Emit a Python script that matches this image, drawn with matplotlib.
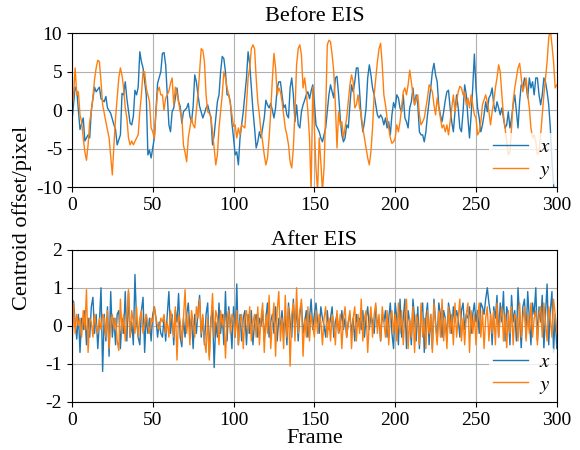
import numpy as np
import matplotlib
matplotlib.use('Agg')
import matplotlib.pyplot as plt

plt.rcParams['font.family'] = ['Liberation Serif', 'DejaVu Serif']
plt.rcParams['mathtext.fontset'] = 'stix'
plt.rcParams['axes.unicode_minus'] = False

# ---- Before EIS ----
top_x_frames = [0, 2, 3, 5, 7, 8, 10, 11, 12, 14, 15, 17, 18, 20, 21, 22, 24, 26, 27, 28,
                30, 31, 32, 33, 34, 36, 37, 38, 39, 40, 41, 42, 43, 44, 46, 47, 48, 49, 51, 52,
                53, 55, 56, 57, 58, 59, 60, 61, 62, 63, 65, 66, 67, 68, 69, 71, 72, 73, 74, 75,
                76, 77, 78, 79, 81, 82, 83, 84, 86, 87, 88, 89, 90, 91, 92, 93, 94, 95, 96, 97,
                98, 99, 100, 101, 102, 103, 104, 105, 106, 107, 108, 109, 110, 111, 112, 113, 114, 115, 116, 117,
                118, 119, 120, 121, 122, 123, 124, 125, 126, 127, 128, 129, 130, 131, 132, 133, 134, 135, 136, 137,
                138, 139, 140, 141, 142, 143, 144, 145, 146, 147, 148, 149, 150, 151, 153, 154, 155, 156, 157, 158,
                159, 160, 161, 162, 163, 164, 165, 166, 167, 168, 169, 170, 171, 172, 173, 174, 175, 176, 177, 178,
                179, 180, 181, 182, 183, 184, 185, 186, 187, 188, 189, 190, 191, 192, 193, 194, 195, 196, 197, 198,
                199, 200, 201, 202, 203, 204, 205, 206, 207, 208, 209, 210, 211, 212, 213, 214, 215, 216, 217, 218,
                219, 220, 221, 222, 223, 224, 225, 226, 227, 228, 229, 230, 231, 232, 233, 234, 235, 236, 237, 238,
                239, 240, 241, 242, 243, 244, 245, 246, 247, 248, 249, 250, 251, 252, 253, 254, 255, 256, 257, 258,
                259, 260, 261, 262, 263, 264, 265, 266, 267, 268, 269, 270, 271, 272, 273, 274, 275, 276, 277, 278,
                279, 280, 281, 282, 283, 284, 285, 286, 287, 288, 289, 290, 291, 292, 293, 294, 295, 296, 297, 298,
                299, 300]
top_x_vals = [-1.5, 3, 2.5, -2.5, -1, -4, -3.2, -3.6, 0, 3, 2.4, 3, 1.5, 1.1, 1.8, 0.3, -0.4, -1.9, -2.5, -4.5,
              -3.2, 2.2, 2, 3.7, 1.5, -1.7, -1.9, -0.8, 2.6, 2, 3, 7.6, 6.3, 5.5, 2, -5.8, -5.2, -6.2, -3.6, 0,
              3.5, 5, 7.4, 7.5, 5.9, 2, -1.9, -2.8, -0.2, 0.3, 2.9, 1.1, 0.5, -1.7, -0.2, 0.3, 0.9, -0.8, -1.5, 0.5,
              4.6, 3.7, 2, 0.5, -1, -0.4, 0.3, 0.7, -1, -4.5, -3.2, -1, 1.1, 2, 5, 7, 6.7, 5, 2, 2,
              1.1, -1.7, -3.6, -5.8, -5.4, -7.1, -3.6, -1.9, -0.2, 2, 4.2, 7.6, 6.0, 3, 0, -2.3, -4.9, -4.1, -2.8, -3.6,
              -2.3, -1, 1.3, 0.7, 0.3, 0.9, 0, -1, 0.3, 2.9, 3.7, 3.7, 2, 0.3, 0.7, -0.6, -1, 2.9, 4.2, 2,
              -1.5, 0.7, -1.9, -2.3, -0.2, 0.7, 1.3, 2, 2.4, 1.5, 2.5, 3.3, 1, -1.9, -2.8, -3.6, -4.1, -3.2, -2.3, -0.2,
              2, 3.3, 2.4, 1.6, 4.2, 4.4, 2, -1, -3.2, -4.1, -3.6, -1.9, -2.3, 0.7, 3.3, 2.4, 3.7, 5.5, 5.5, 2.4,
              -1, -2.8, -1.5, 0.3, 4.2, 5.9, 4.6, 2.9, 2, 0.7, -0.6, -1, -0.6, -1, -1.9, -1, -2.3, -1.5, -3.2, -0.6,
              1, 0.3, 2, 1.6, 0.3, -0.2, 2, -1, -1.5, -2.3, 0.3, 1.1, 2.9, 0.7, 2, 0.7, -2.8, -3.2, -3.2, -4.1,
              -2.8, -0.6, 1.1, 2.9, 5, 6.1, 4.6, 3.7, 0.5, -0.6, -1.5, -0.2, 1.3, 2.4, 2.6, 0.3, -1.5, -2.8, -0.2, 2,
              0.3, -2.3, -2.8, -0.2, 3.3, 2, -1, -3.6, -0.6, 3, 7.3, 2.9, 0.3, -1, -2.8, -1.9, -0.6, 1.1, -0.2, 1.6,
              2, 2.9, 0.7, -0.2, 1.1, 0.3, -0.6, 0.3, -1, -2.3, -1.9, -0.2, -2.3, -1, 0.7, 2, -0.2, -2.3, 1.1, 3.3,
              2.9, 4.2, 3.3, 1.6, 4.2, 2.9, 3.7, 2, 4.2, 4.2, 2, 0.7, 2, 4.2, 3.7, 2.4, 0.7, -2.3, -6.7, -9.7,
              -12, -12]

top_y_frames = [0, 1, 2, 3, 4, 5, 6, 7, 8, 9, 10, 11, 12, 13, 14, 15, 16, 17, 18, 19,
                21, 23, 24, 25, 26, 27, 28, 29, 30, 31, 32, 33, 34, 35, 36, 37, 38, 40, 41, 42,
                43, 44, 45, 46, 47, 48, 49, 50, 51, 52, 53, 54, 55, 56, 57, 58, 59, 60, 61, 62,
                63, 64, 65, 66, 67, 68, 69, 70, 71, 72, 73, 74, 75, 76, 77, 78, 79, 80, 81, 82,
                83, 84, 85, 86, 87, 88, 89, 90, 91, 92, 93, 94, 95, 96, 97, 98, 99, 100, 101, 102,
                103, 104, 105, 106, 107, 108, 109, 110, 111, 112, 113, 114, 115, 116, 117, 118, 119, 120, 121, 122,
                123, 124, 125, 126, 127, 128, 129, 130, 131, 132, 133, 134, 135, 136, 137, 138, 139, 140, 141, 142,
                143, 144, 145, 146, 147, 148, 149, 150, 151, 152, 153, 154, 155, 156, 157, 158, 159, 160, 161, 162,
                163, 164, 165, 166, 167, 168, 169, 170, 171, 172, 173, 174, 175, 176, 177, 178, 179, 180, 181, 182,
                183, 184, 185, 186, 187, 188, 189, 190, 191, 192, 193, 194, 195, 196, 197, 198, 199, 200, 201, 202,
                203, 204, 205, 206, 207, 208, 209, 210, 211, 212, 213, 214, 215, 216, 217, 218, 219, 220, 221, 222,
                223, 224, 225, 226, 227, 228, 229, 230, 231, 232, 233, 234, 235, 236, 237, 238, 239, 240, 241, 242,
                243, 244, 245, 246, 247, 248, 249, 250, 251, 252, 253, 254, 256, 257, 258, 259, 260, 261, 262, 263,
                264, 265, 266, 267, 268, 269, 270, 271, 272, 273, 274, 275, 276, 277, 278, 279, 280, 281, 282, 283,
                284, 285, 286, 287, 288, 289, 290, 292, 293, 294, 295, 296, 297, 298, 299, 300]
top_y_vals = [0, 2, 5.5, 2, 2.4, -0.6, -1.5, -3.6, -5.4, -6.5, -4.5, -1.5, -0.2, 1.8, 4, 5.5, 6.5, 6.3, 3.7, 0.7,
              -1.5, -3.6, -6, -8.4, -4.5, -1, 1.6, 4.2, 5.5, 4.5, 2.9, 0.3, -1, -3.6, -4.5, -4, -4.5, -3.6, -3.2, -0.2,
              2, 5, 5, 2.9, 2, 1.1, -2.3, -2.8, -3.6, -0.2, 2.4, 3, 2, 2, 0, 1.6, 2, 2.5, 3.5, 4.2,
              0.7, 3, 2.2, 1.1, -0.2, -0.8, -4.5, -5.5, -6.7, -3.6, -2.3, -1, -1.9, -2.3, 0, 2, 5, 8, 7.8, 6.3,
              2, -0.2, -0.4, -0.8, -2.8, -4.9, -7.1, -5.8, -2.3, -0.2, 2, 5, 4.2, 2.9, 2, 0.9, -0.6, -2.1, -1.9, -3.6,
              -2.3, -3.2, -1.9, -2.1, -2.3, 0.7, 4.2, 5.5, 8, 8.5, 8, 4.2, 1.1, -0.6, -2.8, -4.1, -5.8, -7.1, -6.2, -3.6,
              -0.2, 4, 7.4, 5.5, 2, 2.9, 2.4, 1.1, -0.6, -2.3, -3.2, -4.5, -6.7, -7.5, -4.9, -0.2, 5.9, 8, 8.5, 7.2,
              2.9, 4.2, 2.4, -0.2, -3.6, -10.5, 3, -2.3, -7.5, -10.5, -3.6, -6.7, -10.5, -7.5, -0.2, 8.5, 9.1, 8.9, 7.2, 5,
              0.7, -4.9, -0.2, -1.9, -1.5, -3.6, -2.3, -1, 1.1, 3.3, 4.6, 3.7, 0.3, 0.7, 2, 0.3, -0.6, -2.3, -3.6, -4.9,
              -6.2, -7.1, -5.4, -2.3, 2, 4.2, 6.3, 8, 8.7, 5.9, 2, 0.7, -1, -2.3, -3.6, -4.3, -4.1, -3.6, -1.9, -2.8,
              -1.5, 0.3, 2.4, 2.9, 2, 3.3, 5.2, 3.7, 2, 0.7, 1.6, 2, -0.6, -1.9, -1.5, -1, 0.3, 1.6, 3.3, 2.9,
              2.4, 0.7, -0.6, 1.6, 0.3, -1, -2.3, -1.9, -2.8, -1.9, -3.2, -1.5, 0.3, 2, -0.2, 1.1, 2.4, 3.1, 2.9, 2,
              2.4, 0.7, 1.6, 0.3, 2, 0.7, -0.6, -1, -3.2, -2.8, -1.5, 0.7, 2, 1.1, -0.2, -1.9, -0.2, 1.1, 2.9, 4.2,
              5.9, 5, 2, -0.6, -2.3, -4.1, -5.8, -5.4, -2.3, 1.1, 2.9, 4.2, 5.5, 6.1, 4.2, 2.4, 3.3, 4.2, 2, 0.3,
              -2.3, -3.6, -3.2, -4.1, -5.8, -5.4, -3.2, 2, 4.2, 6.3, 9.4, 10.5, 8.5, 6.3, 2.9, 3.3]

# ---- After EIS: one value per frame, 0..300 ----
frames = np.arange(0, 301)
bot_x = [-0.3, 0.65, 0.1, -0.35, 0.3, -0.7, 0.2, -0.1, 0.4, -0.5,
         0.2, -0.3, 0.5, 0.75, -0.2, 0.3, -0.6, 0.1, 1.0, -1.2,
         0.3, -0.4, 0.5, -0.8, 0.9, -0.3, 0.2, -0.5, 0.3, 0.4,
         -0.6, 0.2, -0.2, 0.9, -0.4, 0.9, -0.3, 0.1, -0.5, 1.35,
         0.1, -0.3, -0.5, 0.4, 0.75, -0.7, 0.3, -0.2, 0.2, -0.4,
         0.3, 0.5, 0.2, -0.3, 0.1, -0.2, -0.3, 0.2, -0.4, 0.3,
         0.9, -0.2, 0.3, -0.5, 0.4, 0.1, 0.85, -0.3, -0.55, 0.2,
         -0.3, 0.3, 0.6, -0.1, 0.2, -0.6, 0.3, -0.2, 0.4, 0.8,
         -0.3, 0.2, -0.5, 0.3, 0.6, -0.8, 0.2, 0.4, -1.1, 0.1,
         -0.3, 0.6, -0.2, 0.3, -0.5, 0.9, -0.4, 0.5, 0.1, -0.6,
         0.5, -0.3, 1.1, -0.5, 0.3, -0.4, 0.2, 0.4, -0.5, 0.3,
         -0.2, 0.4, -0.5, 0.1, 0.3, -0.3, 0.2, 0.0, 0.4, -0.4,
         0.2, 0.6, -0.3, 0.1, 0.3, -0.2, 0.5, -0.4, 0.2, 0.0,
         0.4, -0.2, 0.3, -0.5, 0.6, 0.1, -0.3, 0.7, -0.1, 0.5,
         -0.4, 0.3, 0.6, -0.2, 0.1, 0.4, -0.3, 0.2, 0.7, -0.1,
         0.3, 0.6, 0.1, -0.2, 0.5, 0.2, 0.0, -0.3, 0.4, -0.1,
         0.2, 0.5, -0.3, 0.1, 0.3, -0.2, 0.0, 0.4, -0.1, 0.2,
         -0.3, 0.1, 0.3, -0.2, 0.2, -0.4, 0.3, 0.0, 0.2, -0.1,
         0.4, -0.3, 0.2, 0.5, -0.1, 0.3, 0.1, -0.2, 0.5, 0.0,
         0.2, -0.4, 0.3, 0.1, 0.4, -0.3, 0.2, 0.6, -0.2, -0.6,
         0.6, 0.2, -0.5, 0.7, -0.3, 0.2, 0.7, -0.6, 0.4, 0.1,
         -0.5, 0.7, 0.2, -0.4, 0.5, -0.6, 0.3, 0.6, -0.7, 0.2,
         0.6, -0.5, 0.3, -0.6, 0.7, 0.1, -0.4, 0.6, 0.3, -0.3,
         0.4, 0.2, -0.4, 0.6, 0.3, -0.2, 0.5, 0.1, 0.4, 0.2,
         -0.3, 0.4, 0.6, -0.1, 0.3, 0.2, 0.5, -0.2, 0.3, 0.6,
         0.1, 0.4, -0.2, 0.6, 0.5, 0.3, 0.7, 1.0, 0.6, 0.3,
         -0.5, 0.5, 0.2, 0.8, -0.3, 0.6, 0.1, 0.9, -0.4, 0.5,
         0.3, -0.5, 0.8, 0.1, 0.4, -0.4, 1.0, 0.2, -0.6, 0.5,
         0.7, -0.3, 0.9, 0.2, -0.5, 0.6, 0.3, 1.0, -0.4, 0.5,
         0.1, 0.8, -0.6, 0.3, 1.1, -0.5, 0.4, 0.9, -0.7, 0.3, -0.6]
bot_y = [-0.7, 0.6, -0.2, 0.3, 0.0, 0.2, -0.3, 0.4, -0.1, 0.95,
         -0.7, 0.2, 0.1, -0.3, 0.3, 0.0, -0.2, 0.2, -0.1, 0.3,
         0.2, -0.3, 0.4, -0.6, 0.1, 0.3, -0.1, 0.2, -0.4, -0.65,
         0.7, -0.2, 0.3, -0.4, 0.2, 0.95, -0.3, 0.4, 0.1, -0.2,
         0.5, -0.3, 0.2, 0.4, -0.2, 0.1, 0.3, 0.0, -0.2, 0.2,
         0.1, 0.5, 0.2, 0.0, -0.1, 0.2, 0.1, 0.3, -0.2, 0.1,
         -0.3, 0.4, 0.2, -0.3, 0.5, -0.9, 0.3, 0.1, -0.4, 0.2,
         0.95, -0.2, 0.3, -0.5, 0.4, 0.1, -0.3, 0.5, 0.2, 0.7,
         -0.2, 0.3, -0.4, -0.7, 0.2, -0.9, 0.1, 0.85, -0.3, 0.4,
         0.2, -0.5, 0.4, 0.0, 0.3, -0.85, 0.2, 0.4, -0.2, 0.3,
         0.2, -0.3, 0.4, -0.5, 0.1, 0.3, -0.6, 0.2, 0.4, -0.2,
         0.5, -0.4, 0.1, 0.3, -0.3, 0.5, -0.5, 0.2, 0.6, -0.7,
         0.3, -0.2, 0.8, -0.6, 0.1, 0.6, -0.8, 0.4, 0.9, -0.4,
         0.2, -0.6, 0.8, -0.3, 0.5, -1.06, 0.3, 0.6, -0.4, 1.0,
         -0.2, 0.4, 0.7, -0.8, 0.2, -0.3, 0.5, -0.4, 0.3, 0.0,
         -0.3, 0.4, -0.2, 0.3, 0.1, -0.5, 0.2, 0.5, -0.3, 0.2,
         -0.4, 0.3, 0.1, -0.5, 0.4, -0.2, 0.3, -0.6, 0.2, 0.5,
         -0.3, 0.1, 0.4, -0.6, 0.2, 0.5, -0.4, 0.3, -0.2, 0.7,
         -0.4, 0.2, 0.4, -0.7, 0.1, 0.5, -0.3, 0.3, 0.6, -0.2,
         0.3, -0.4, 0.5, 0.1, -0.3, 0.4, -0.5, 0.2, 0.4, -0.2,
         0.3, -0.4, 0.6, -0.2, 0.4, -0.5, 0.3, 0.7, -0.6, 0.2,
         -0.3, 0.5, -0.7, 0.3, 0.1, -0.5, 0.6, -0.3, 0.2, -0.6,
         0.4, -0.2, 0.3, -0.7, 0.6, 0.0, -0.5, 0.4, -0.3, 0.7,
         -0.4, 0.2, -0.6, 0.5, -0.2, 0.3, -0.5, 0.6, -0.3, 0.2,
         0.7, -0.4, 0.2, -0.5, 0.3, 0.6, -0.7, 0.4, -0.2, 0.3,
         -0.5, 0.2, 0.6, -0.3, 0.4, -0.6, 0.2, 0.5, -0.4, 0.3,
         -0.2, 0.4, -0.5, 0.6, -0.3, 0.2, 0.5, -0.4, 0.3, -0.6,
         0.4, -0.2, 0.5, -0.5, 0.3, 0.2, -0.4, 0.6, -0.3, 0.2,
         0.5, -0.4, 0.3, -0.2, 0.6, -0.3, 0.2, 0.4, -0.5, 0.3,
         0.5, -0.3, 0.6, 0.1, -0.4, 0.5, 0.2, -0.3, 0.7, 0.3, -0.2]

fig = plt.figure(figsize=(5.8, 4.5), dpi=100)
ax1 = fig.add_axes([0.124, 0.584, 0.836, 0.342])
ax2 = fig.add_axes([0.124, 0.107, 0.836, 0.338])

# upper panel
ax1.plot(top_x_frames, top_x_vals, color='tab:blue', lw=1, label='$x$')
ax1.plot(top_y_frames, top_y_vals, color='tab:orange', lw=1, label='$y$')
ax1.set_xlim(0, 300)
ax1.set_ylim(-10, 10)
ax1.set_yticks([-10, -5, 0, 5, 10])
ax1.set_title('Before EIS', fontsize=16, pad=9)

# lower panel
ax2.plot(frames, bot_x, color='tab:blue', lw=1, label='$x$')
ax2.plot(frames, bot_y, color='tab:orange', lw=1, label='$y$')
ax2.set_xlim(0, 300)
ax2.set_ylim(-2, 2)
ax2.set_yticks([-2, -1, 0, 1, 2])
ax2.set_title('After EIS', fontsize=16, pad=3.5)
ax2.set_xlabel('Frame', fontsize=16, labelpad=0)

for ax in (ax1, ax2):
    ax.set_xticks(np.arange(0, 301, 50))
    ax.grid(True, color='#b0b0b0', lw=0.8)
    ax.tick_params(labelsize=14)
    ax.legend(loc='lower right', fontsize=15, handlelength=1.7, handletextpad=0.5,
              borderpad=0.2, labelspacing=0.15, framealpha=0.8, edgecolor='none',
              borderaxespad=0.1)

fig.text(0.038, 0.515, 'Centroid offset/pixel', rotation=90, fontsize=16,
         ha='center', va='center')

plt.savefig('out.png', dpi=100)
